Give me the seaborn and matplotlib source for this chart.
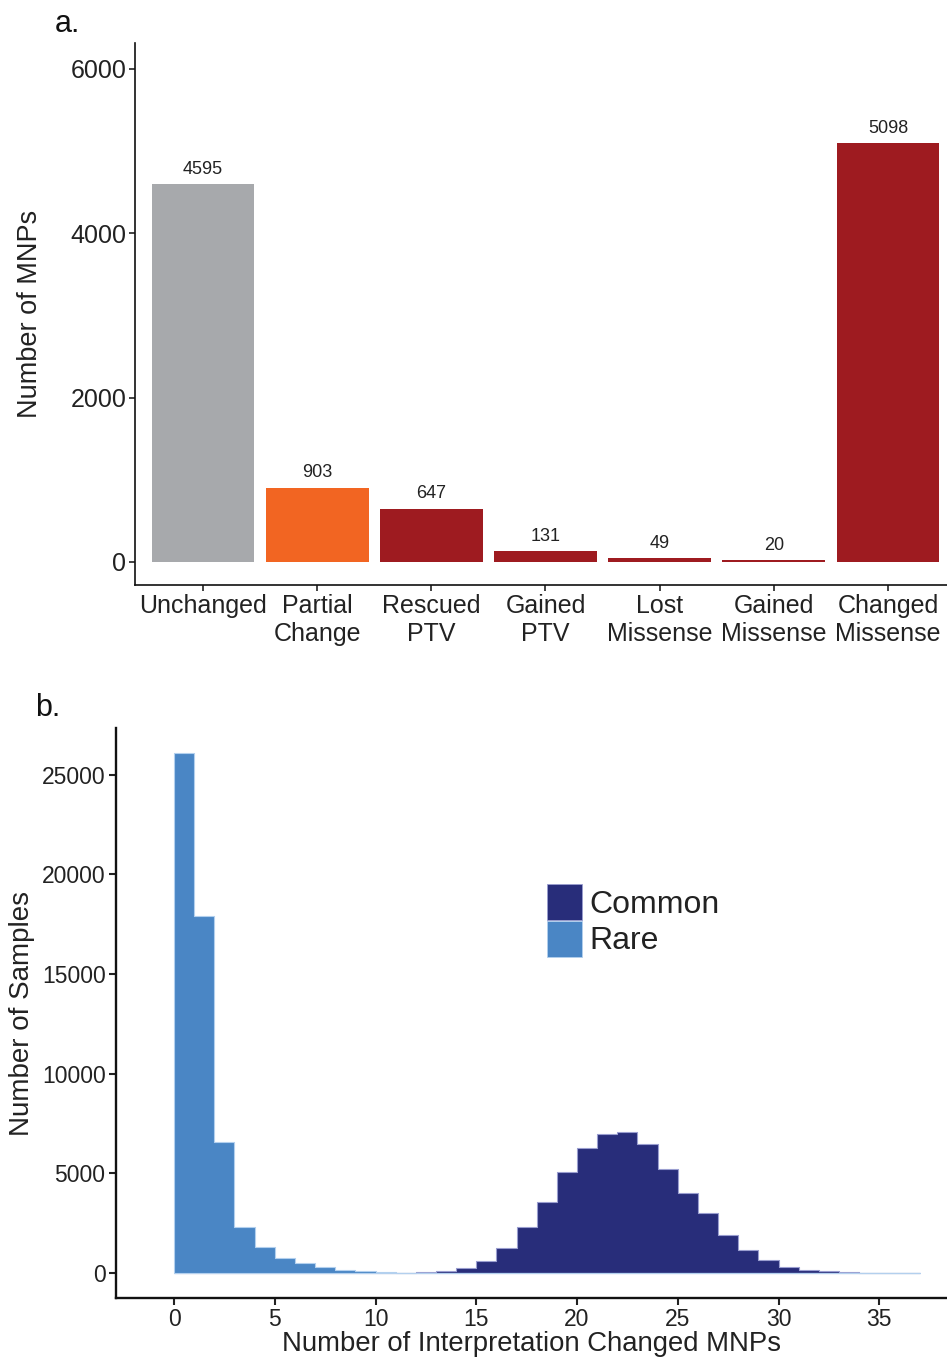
import numpy as np
import pandas as pd
import matplotlib
matplotlib.use("Agg")
import matplotlib.pyplot as plt
from matplotlib.patches import Patch
import seaborn as sns

# ---- panel a: MNP interpretation categories ----
categories = ["Unchanged", "Partial\nChange", "Rescued\nPTV", "Gained\nPTV",
              "Lost\nMissense", "Gained\nMissense", "Changed\nMissense"]
mnp_counts = [4595, 903, 647, 131, 49, 20, 5098]
bar_colors = ["#A7A9AC", "#F26522", "#9E1B20", "#9E1B20",
              "#9E1B20", "#9E1B20", "#9E1B20"]

# ---- panel b: per-sample counts of interpretation-changed MNPs ----
rare_bins = list(range(0, 12))
rare_counts = [26110, 17920, 6580, 2300, 1280, 760, 490, 290, 150, 90, 50, 25]
common_bins = list(range(11, 37))
common_counts = [15, 50, 120, 270, 590, 1250, 2320, 3560, 5070, 6270, 6970,
                 7060, 6490, 5230, 4010, 3010, 1920, 1170, 650, 320, 140, 85,
                 45, 20, 10, 5]
group_names = ["Common", "Rare"]
group_colors = {"Common": "#282D7A", "Rare": "#4A86C5"}
group_edges = {"Common": "#9A9ED0", "Rare": "#B3D0EE"}

sns.set_theme(style="white")
plt.rcParams["font.family"] = ["Liberation Sans", "DejaVu Sans"]

W, H = 947, 1359
fig = plt.figure(figsize=(W / 100, H / 100), dpi=100)


def frac_axes(left, top, right, bottom):
    return fig.add_axes([left / W, 1 - bottom / H, (right - left) / W, (bottom - top) / H])


# ---------------- panel a ----------------
ax1 = frac_axes(134.7, 43, 947, 585)
df_a = pd.DataFrame({"category": categories, "count": mnp_counts})
sns.barplot(data=df_a, x="category", y="count", hue="category",
            palette=dict(zip(categories, bar_colors)), width=0.9,
            legend=False, ax=ax1, saturation=1, edgecolor="none")
for i, v in enumerate(mnp_counts):
    ax1.annotate(f"{v}", (i, v), xytext=(0, 7.5), textcoords="offset points",
                 ha="center", va="baseline", fontsize=13, color="#222222")
ax1.set_xlim(-0.598, 6.517)
ax1.set_ylim(-280, 6316)
ax1.set_yticks([0, 2000, 4000, 6000])
ax1.set_xlabel("")
ax1.set_ylabel("Number of MNPs", fontsize=19.5, color="#222222", labelpad=20)
ax1.tick_params(axis="both", which="major", labelsize=18, length=4.5, width=1.2,
                color="#222222", labelcolor="#222222", direction="out",
                bottom=True, left=True, pad=1.5)
ax1.tick_params(axis="x", pad=2)
for lbl in ax1.get_xticklabels():
    lbl.set_linespacing(1.2)
for s in ["top", "right"]:
    ax1.spines[s].set_visible(False)
for s in ["left", "bottom"]:
    ax1.spines[s].set_color("#111111")
    ax1.spines[s].set_linewidth(1.2)
fig.text(55 / W, 1 - 32 / H, "a.", fontsize=22, color="#111111", va="baseline")

# ---------------- panel b ----------------
ax2 = frac_axes(116, 728, 947, 1298)
df_b = pd.concat([
    pd.DataFrame({"value": rare_bins, "n": rare_counts, "group": "Rare"}),
    pd.DataFrame({"value": common_bins, "n": common_counts, "group": "Common"}),
], ignore_index=True)
for g in group_names:
    sub = df_b[df_b["group"] == g].reset_index(drop=True)
    sns.histplot(data=sub, x="value", weights="n", binwidth=1, binrange=(0, 37),
                 element="step", fill=True, ax=ax2, color=group_colors[g],
                 edgecolor=group_edges[g], linewidth=0.8, alpha=1, label=g)
ax2.set_xlim(-2.88, 38.36)
ax2.set_ylim(-1254, 27346)
ax2.set_xticks(range(0, 40, 5))
ax2.set_yticks(range(0, 30000, 5000))
ax2.set_xlabel("Number of Interpretation Changed MNPs", fontsize=19.8,
               color="#222222", labelpad=0)
ax2.set_ylabel("Number of Samples", fontsize=20, color="#222222", labelpad=5)
ax2.tick_params(axis="both", which="major", labelsize=16.5, length=5, width=1.5,
                color="#222222", labelcolor="#222222", direction="out",
                bottom=True, left=True, pad=2.5)
for s in ["top", "right"]:
    ax2.spines[s].set_visible(False)
for s in ["left", "bottom"]:
    ax2.spines[s].set_color("#111111")
    ax2.spines[s].set_linewidth(1.7)

# legend: plain colour squares, Common above Rare
handles = [Patch(facecolor=group_colors[g], edgecolor=group_edges[g], linewidth=0.6)
           for g in group_names]
leg = ax2.legend(handles, group_names,
                 loc="upper left", bbox_to_anchor=(547 / W, 1 - 884 / H),
                 bbox_transform=fig.transFigure, frameon=False, fontsize=23,
                 handlelength=1.1, handleheight=1.36, handletextpad=0.22,
                 labelspacing=0.02, borderpad=0, borderaxespad=0)
for t in leg.get_texts():
    t.set_color("#222222")
fig.text(35 / W, 1 - 716 / H, "b.", fontsize=22, color="#111111", va="baseline")

fig.savefig("out.png", dpi=100)
